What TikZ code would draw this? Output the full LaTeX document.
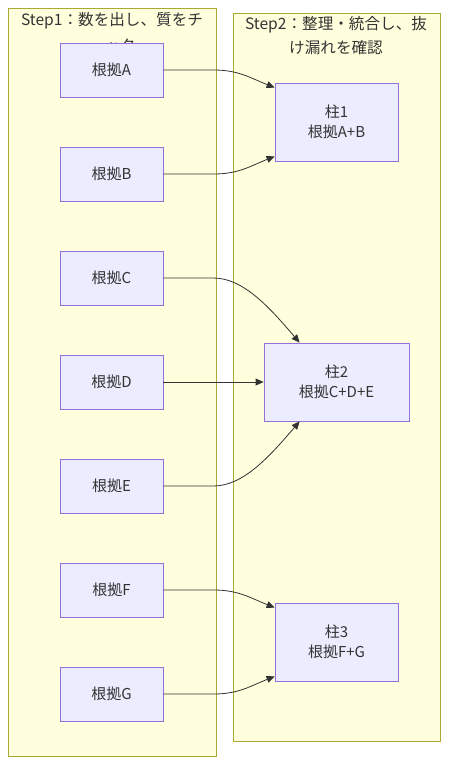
\documentclass[tikz,border=0pt]{standalone}
\usepackage{fontspec}
\setmainfont{Noto Sans CJK JP}
\usetikzlibrary{arrows.meta,calc}
\definecolor{clfill}{HTML}{FFFFDE}
\definecolor{cldraw}{HTML}{AAAA33}
\definecolor{ndfill}{HTML}{ECECFF}
\definecolor{nddraw}{HTML}{9370DB}
\definecolor{edge}{HTML}{333333}
\definecolor{txt}{HTML}{333333}
\tikzset{
  cluster/.style={draw=cldraw,fill=clfill,line width=0.8pt},
  box/.style={draw=nddraw,fill=ndfill,line width=0.8pt,minimum width=103pt,minimum height=54pt,inner sep=0pt,text=txt,font=\fontsize{15}{20}\selectfont,align=center},
  bigbox/.style={box,minimum width=123pt,minimum height=78pt},
  title/.style={text=txt,font=\fontsize{15.6}{20}\selectfont,inner sep=0pt},
  arr/.style={draw=edge,line width=0.8pt,-{Triangle[length=8pt,width=7pt]}}
}
\begin{document}
\begin{tikzpicture}[x=1pt,y=-1pt]
\useasboundingbox (0,0) rectangle (448,764);
\fill[white] (0,0) rectangle (448,764);
% clusters
\draw[cluster] (8,8) rectangle (216,756);
\draw[cluster] (233,13) rectangle (440,741);
\node[title] (t1a) at (112,21) {Step1：数を出し、質をチ};
\node[title] (t1b) at (112,46) {ェック};
\node[title] (t2a) at (336,25) {Step2：整理・統合し、抜};
\node[title] (t2b) at (336,48) {け漏れを確認};
% left nodes
\node[box] (A) at (111.5,70) {根拠A};
\node[box] (B) at (111.5,174) {根拠B};
\node[box] (C) at (111.5,278) {根拠C};
\node[box] (D) at (111.5,382) {根拠D};
\node[box] (E) at (111.5,486) {根拠E};
\node[box] (F) at (111.5,590) {根拠F};
\node[box] (G) at (111.5,694) {根拠G};
% right nodes
\node[bigbox] (P1) at (336.5,122) {柱1\\根拠A+B};
\node[bigbox,minimum width=145pt] (P2) at (336.5,382) {柱2\\根拠C+D+E};
\node[bigbox] (P3) at (336.5,642) {柱3\\根拠F+G};
% edges
\draw[arr] (A.east) -- ++(50,0) .. controls +(25,0) and +(-25,-10) .. ($(P1.north west)+(0,5)$);
\draw[arr] (B.east) -- ++(50,0) .. controls +(25,0) and +(-25,10) .. ($(P1.south west)+(0,-5)$);
\draw[arr] (C.east) -- ++(50,0) .. controls +(30,0) and +(-30,-35) .. ($(P2.north west)+(36,0)$);
\draw[arr] (D.east) -- (P2.west);
\draw[arr] (E.east) -- ++(50,0) .. controls +(30,0) and +(-30,35) .. ($(P2.south west)+(36,0)$);
\draw[arr] (F.east) -- ++(50,0) .. controls +(25,0) and +(-25,-10) .. ($(P3.north west)+(0,5)$);
\draw[arr] (G.east) -- ++(50,0) .. controls +(25,0) and +(-25,10) .. ($(P3.south west)+(0,-5)$);
\end{tikzpicture}
\end{document}
